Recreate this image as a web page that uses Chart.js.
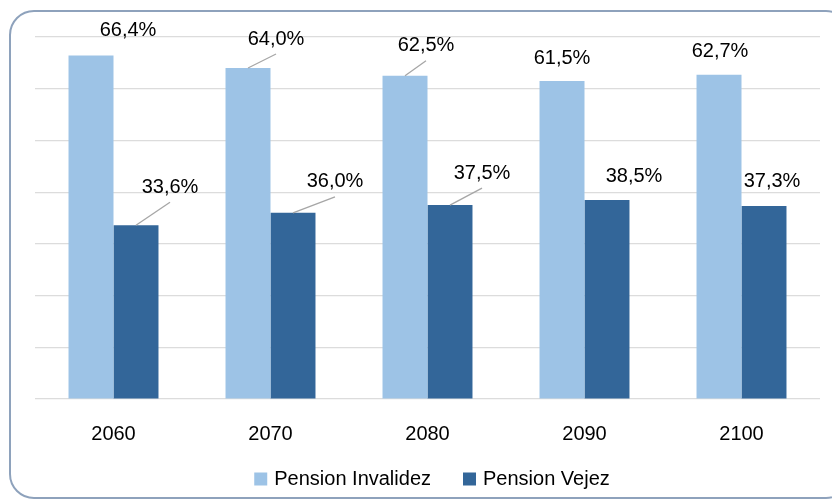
<!DOCTYPE html>
<html>
<head>
<meta charset="utf-8">
<script src="https://cdn.jsdelivr.net/npm/chart.js@4.4.0/dist/chart.umd.min.js"></script>
<style>
  html, body { margin: 0; padding: 0; background: #ffffff; }
  #wrap { width: 832px; height: 501px; position: relative; }
</style>
</head>
<body>
<div id="wrap"><canvas id="c" width="832" height="501"></canvas></div>
<script>
const categories = ['2060', '2070', '2080', '2090', '2100'];
const invalidez = [66.4, 64.0, 62.5, 61.5, 62.7];
const vejez = [33.6, 36.0, 37.5, 38.5, 37.3];
const seriesNames = ['Pension Invalidez', 'Pension Vejez'];

const FONT = '"Liberation Sans", Arial, sans-serif';
function fmt(v) { return v.toFixed(1).replace('.', ',') + '%'; }

const frame = {
  id: 'frame',
  beforeDraw(chart) {
    const ctx = chart.ctx;
    ctx.save();
    ctx.fillStyle = '#ffffff';
    ctx.fillRect(0, 0, chart.width, chart.height);
    ctx.strokeStyle = '#8EA2BC';
    ctx.lineWidth = 2;
    ctx.beginPath();
    ctx.roundRect(10, 11, 840, 487, 24);
    ctx.stroke();
    ctx.restore();
  }
};

const labelsPlugin = {
  id: 'barLabels',
  afterDatasetsDraw(chart, args, opts) {
    const ctx = chart.ctx;
    ctx.save();
    ctx.font = '20px ' + FONT;
    ctx.textAlign = 'center';
    ctx.textBaseline = 'middle';
    chart.data.datasets.forEach((ds, di) => {
      const meta = chart.getDatasetMeta(di);
      meta.data.forEach((bar, i) => {
        const off = opts.offsets[di][i];
        const lx = bar.x + off[0];
        const ly = bar.y + off[1];
        if (opts.leaders[di][i]) {
          ctx.strokeStyle = '#a6a6a6';
          ctx.lineWidth = 1.3;
          ctx.beginPath();
          ctx.moveTo(bar.x, bar.y);
          ctx.lineTo(lx, ly + 15);
          ctx.stroke();
        }
        ctx.fillStyle = '#000000';
        ctx.fillText(fmt(ds.data[i]), lx, ly);
      });
    });
    ctx.restore();
  }
};

const legendPlugin = {
  id: 'customLegend',
  afterDraw(chart, args, opts) {
    const ctx = chart.ctx;
    ctx.save();
    ctx.font = opts.fontSize + 'px ' + FONT;
    ctx.textBaseline = 'middle';
    ctx.textAlign = 'left';
    const items = chart.data.datasets.map(ds => ({
      text: ds.label, color: ds.backgroundColor, w: ctx.measureText(ds.label).width
    }));
    let total = 0;
    items.forEach((it, i) => {
      total += opts.box + opts.gap + it.w + (i < items.length - 1 ? opts.spacing : 0);
    });
    let x = opts.centerX - total / 2;
    const y = opts.y;
    items.forEach(it => {
      ctx.fillStyle = it.color;
      ctx.fillRect(x, y - opts.box / 2, opts.box, opts.box);
      x += opts.box + opts.gap;
      ctx.fillStyle = '#000';
      ctx.fillText(it.text, x, y);
      x += it.w + opts.spacing;
    });
    ctx.restore();
  }
};

new Chart(document.getElementById('c'), {
  type: 'bar',
  data: {
    labels: categories,
    datasets: [
      { label: seriesNames[0], data: invalidez, backgroundColor: '#9DC3E6',
        categoryPercentage: 0.573, barPercentage: 1 },
      { label: seriesNames[1], data: vejez, backgroundColor: '#336699',
        categoryPercentage: 0.573, barPercentage: 1 }
    ]
  },
  options: {
    responsive: false,
    animation: false,
    devicePixelRatio: 1,
    layout: { padding: { left: 35, right: 12, top: 37, bottom: 40 } },
    scales: {
      x: {
        grid: { display: false },
        border: { display: false },
        ticks: { color: '#000', font: { family: FONT, size: 20 }, padding: 15 }
      },
      y: {
        min: 0, max: 70,
        ticks: { display: false, stepSize: 10 },
        border: { display: false },
        grid: { color: '#dcdcdc', lineWidth: 1.2, drawTicks: false }
      }
    },
    plugins: {
      legend: { display: false },
      tooltip: { enabled: false },
      customLegend: { fontSize: 20, box: 13, gap: 7, spacing: 32, centerX: 432, y: 479 },
      barLabels: {
        offsets: [
          [[37, -25], [28, -29], [21, -30], [0, -22], [1, -23]],
          [[34, -38], [42, -31], [32, -32], [27, -23], [8, -25]]
        ],
        leaders: [
          [false, true, true, false, false],
          [true, true, true, false, false]
        ]
      }
    }
  },
  plugins: [frame, labelsPlugin, legendPlugin]
});
</script>
</body>
</html>
